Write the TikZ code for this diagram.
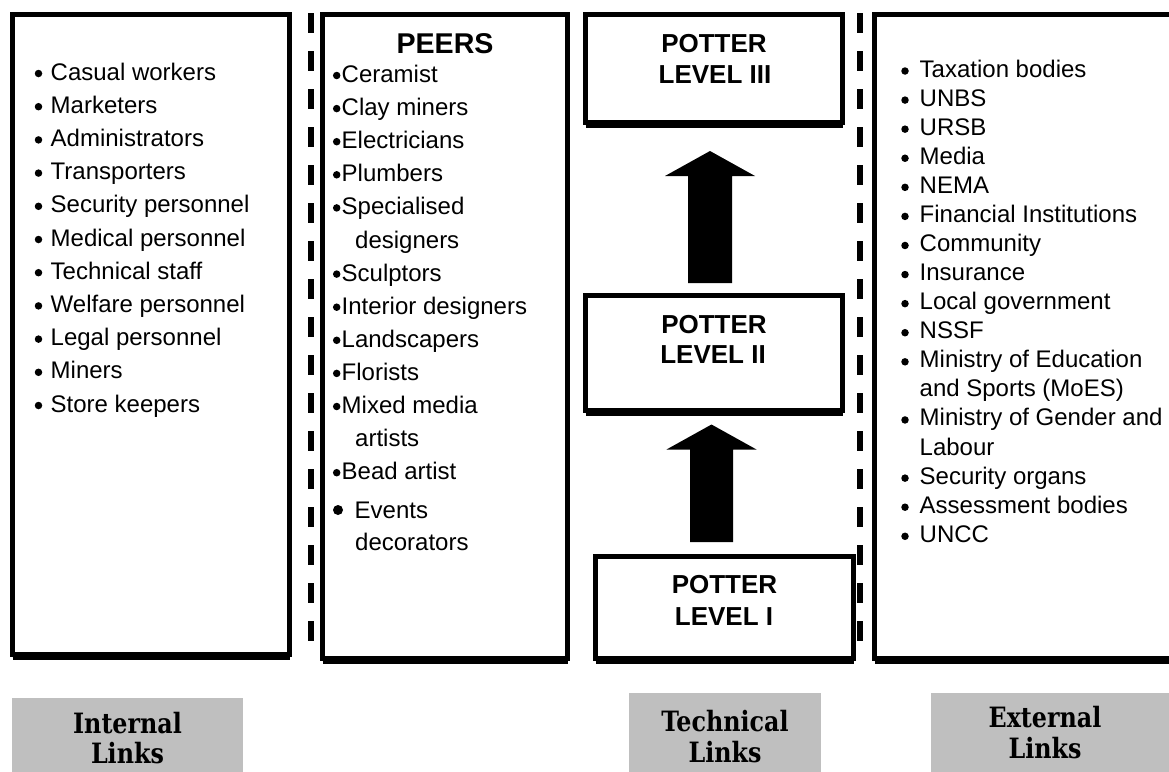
\documentclass[tikz,border=0pt]{standalone}
\usepackage{fontspec}
\usepackage{graphicx}
\setmainfont{Liberation Sans}
\newfontfamily\labfont{DejaVu Serif}
\usetikzlibrary{calc}
\definecolor{labgray}{RGB}{191,191,191}
\tikzset{
  linkbox/.style={draw, line width=5pt, inner sep=0pt, outer sep=0pt},
  graybox/.style={fill=labgray, inner sep=0pt, outer sep=0pt},
  shadowline/.style={line width=3pt},
  itemtxt/.style={anchor=base west, inner sep=0pt, font=\fontsize{24}{28}\selectfont},
  dot/.style={circle, fill, inner sep=0pt, minimum size=7.5pt},
  pottertxt/.style={anchor=base, inner sep=0pt, font=\fontsize{26}{30}\bfseries\selectfont},
  peerhead/.style={anchor=base, inner sep=0pt, font=\fontsize{28.6}{32}\bfseries\selectfont},
  labtxt/.style={anchor=base, inner sep=0pt, font=\fontsize{28}{30}\labfont\bfseries\selectfont},
  sepline/.style={line width=6pt, dash pattern=on 20pt off 18pt},
}
\newcommand\mkbox[6]{%
  \node[#6, anchor=north west, minimum width={#4-#2}, minimum height={#5-#3}] (#1) at (#2,#3) {};}
\newcommand\lab[1]{\scalebox{0.85}[1]{#1}}
\begin{document}
\begin{tikzpicture}[x=1pt,y=-1pt]
\useasboundingbox (0,0) rectangle (1169,771);

% main boxes
\mkbox{intbox}{12.5}{14.5}{289.5}{654.5}{linkbox}
\mkbox{peerbox}{322.5}{14.5}{567.5}{658}{linkbox}
\mkbox{l3}{585.5}{14.5}{842.5}{122.5}{linkbox}
\mkbox{l2}{585.5}{295.5}{842.5}{410}{linkbox}
\mkbox{l1}{595.5}{556}{853.5}{658}{linkbox}
\mkbox{extbox}{874.5}{14.5}{1185}{658}{linkbox}
\foreach \b in {intbox,peerbox,l3,l2,l1,extbox}{
  \draw[shadowline] ([yshift=-4pt]\b.south west) -- ([yshift=-4pt]\b.south east);
}

% dashed separators
\draw[sepline] (311,13) -- (311,645);
\draw[sepline] (859.5,13) -- (859.5,645);

% internal list
\foreach \t [count=\i from 0] in {{Casual workers},{Marketers},{Administrators},{Transporters},{Security personnel},{Medical personnel},{Technical staff},{Welfare personnel},{Legal personnel},{Miners},{Store keepers}}{
  \node[dot] (ib\i) at (38.5,73.5+33.2*\i) {};
  \node[itemtxt] (it\i) at (50.5,80+33.2*\i) {\t};
}

% peers
\node[peerhead] (peers) at (445,53) {PEERS};
\foreach \b/\x/\y/\t [count=\i] in {
  1/341.5/82.5/{Ceramist}, 1/341.5/115.6/{Clay miners}, 1/341.5/148.7/{Electricians},
  1/341.5/181.8/{Plumbers}, 1/341.5/214.9/{Specialised}, 0/355/248/{designers},
  1/341.5/281.1/{Sculptors}, 1/341.5/314.2/{Interior designers}, 1/341.5/347.3/{Landscapers},
  1/341.5/380.4/{Florists}, 1/341.5/413.5/{Mixed media}, 0/355/446.6/{artists},
  1/341.5/479.7/{Bead artist}, 0/354.5/518/{Events}, 0/355/550/{decorators}}{
  \ifnum\b=1 \node[dot] (pb\i) at (336.7,\y-7) {};\fi
  \node[itemtxt] (pt\i) at (\x,\y) {\t};
}
\node[dot, minimum size=10pt] (pbig) at (338,510) {};

% potter levels
\node[pottertxt] (p3a) at (714,52) {POTTER};
\node[pottertxt] (p3b) at (715,83) {LEVEL III};
\node[pottertxt] (p2a) at (714,333) {POTTER};
\node[pottertxt] (p2b) at (713,363) {LEVEL II};
\node[pottertxt] (p1a) at (724.5,593) {POTTER};
\node[pottertxt] (p1b) at (724,625) {LEVEL I};

% block arrows
\fill let \p1=([xshift=-4pt]l2.north), \p2=(l3.south) in
  (\x1-22pt,\y1+12.5pt) -- (\x1-22pt,\y2-53.5pt) -- (\x1-45pt,\y2-53.5pt) --
  (\x1,\y2-28.5pt) -- (\x1+45pt,\y2-53.5pt) -- (\x1+22pt,\y2-53.5pt) --
  (\x1+22pt,\y1+12.5pt) -- cycle;
\fill let \p1=([xshift=-13pt]l1.north), \p2=(l2.south) in
  (\x1-21.5pt,\y1+14pt) -- (\x1-21.5pt,\y2-39.5pt) -- (\x1-45pt,\y2-39.5pt) --
  (\x1,\y2-14.5pt) -- (\x1+45pt,\y2-39.5pt) -- (\x1+21.5pt,\y2-39.5pt) --
  (\x1+21.5pt,\y1+14pt) -- cycle;

% external list
\foreach \b/\t [count=\i from 0] in {1/{Taxation bodies},1/{UNBS},1/{URSB},1/{Media},1/{NEMA},
  1/{Financial Institutions},1/{Community},1/{Insurance},1/{Local government},1/{NSSF},
  1/{Ministry of Education},0/{and Sports (MoES)},1/{Ministry of Gender and},0/{Labour},
  1/{Security organs},1/{Assessment bodies},1/{UNCC}}{
  \ifnum\b=1 \node[dot] (eb\i) at (905,71+29.08*\i) {};\fi
  \node[itemtxt] (et\i) at (919.5,77+29.08*\i) {\t};
}

% bottom labels
\mkbox{intlab}{12}{698}{243}{775}{graybox}
\mkbox{techlab}{629}{693}{821}{775}{graybox}
\mkbox{extlab}{931}{693}{1185}{775}{graybox}
\node[labtxt] (il1) at (127.5,733) {\lab{Internal}};
\node[labtxt] (il2) at (127.5,763) {\lab{Links}};
\node[labtxt] (tl1) at (725,731) {\lab{Technical}};
\node[labtxt] (tl2) at (725,762) {\lab{Links}};
\node[labtxt] (el1) at (1045,727) {\lab{External}};
\node[labtxt] (el2) at (1045,758) {\lab{Links}};
\end{tikzpicture}
\end{document}
